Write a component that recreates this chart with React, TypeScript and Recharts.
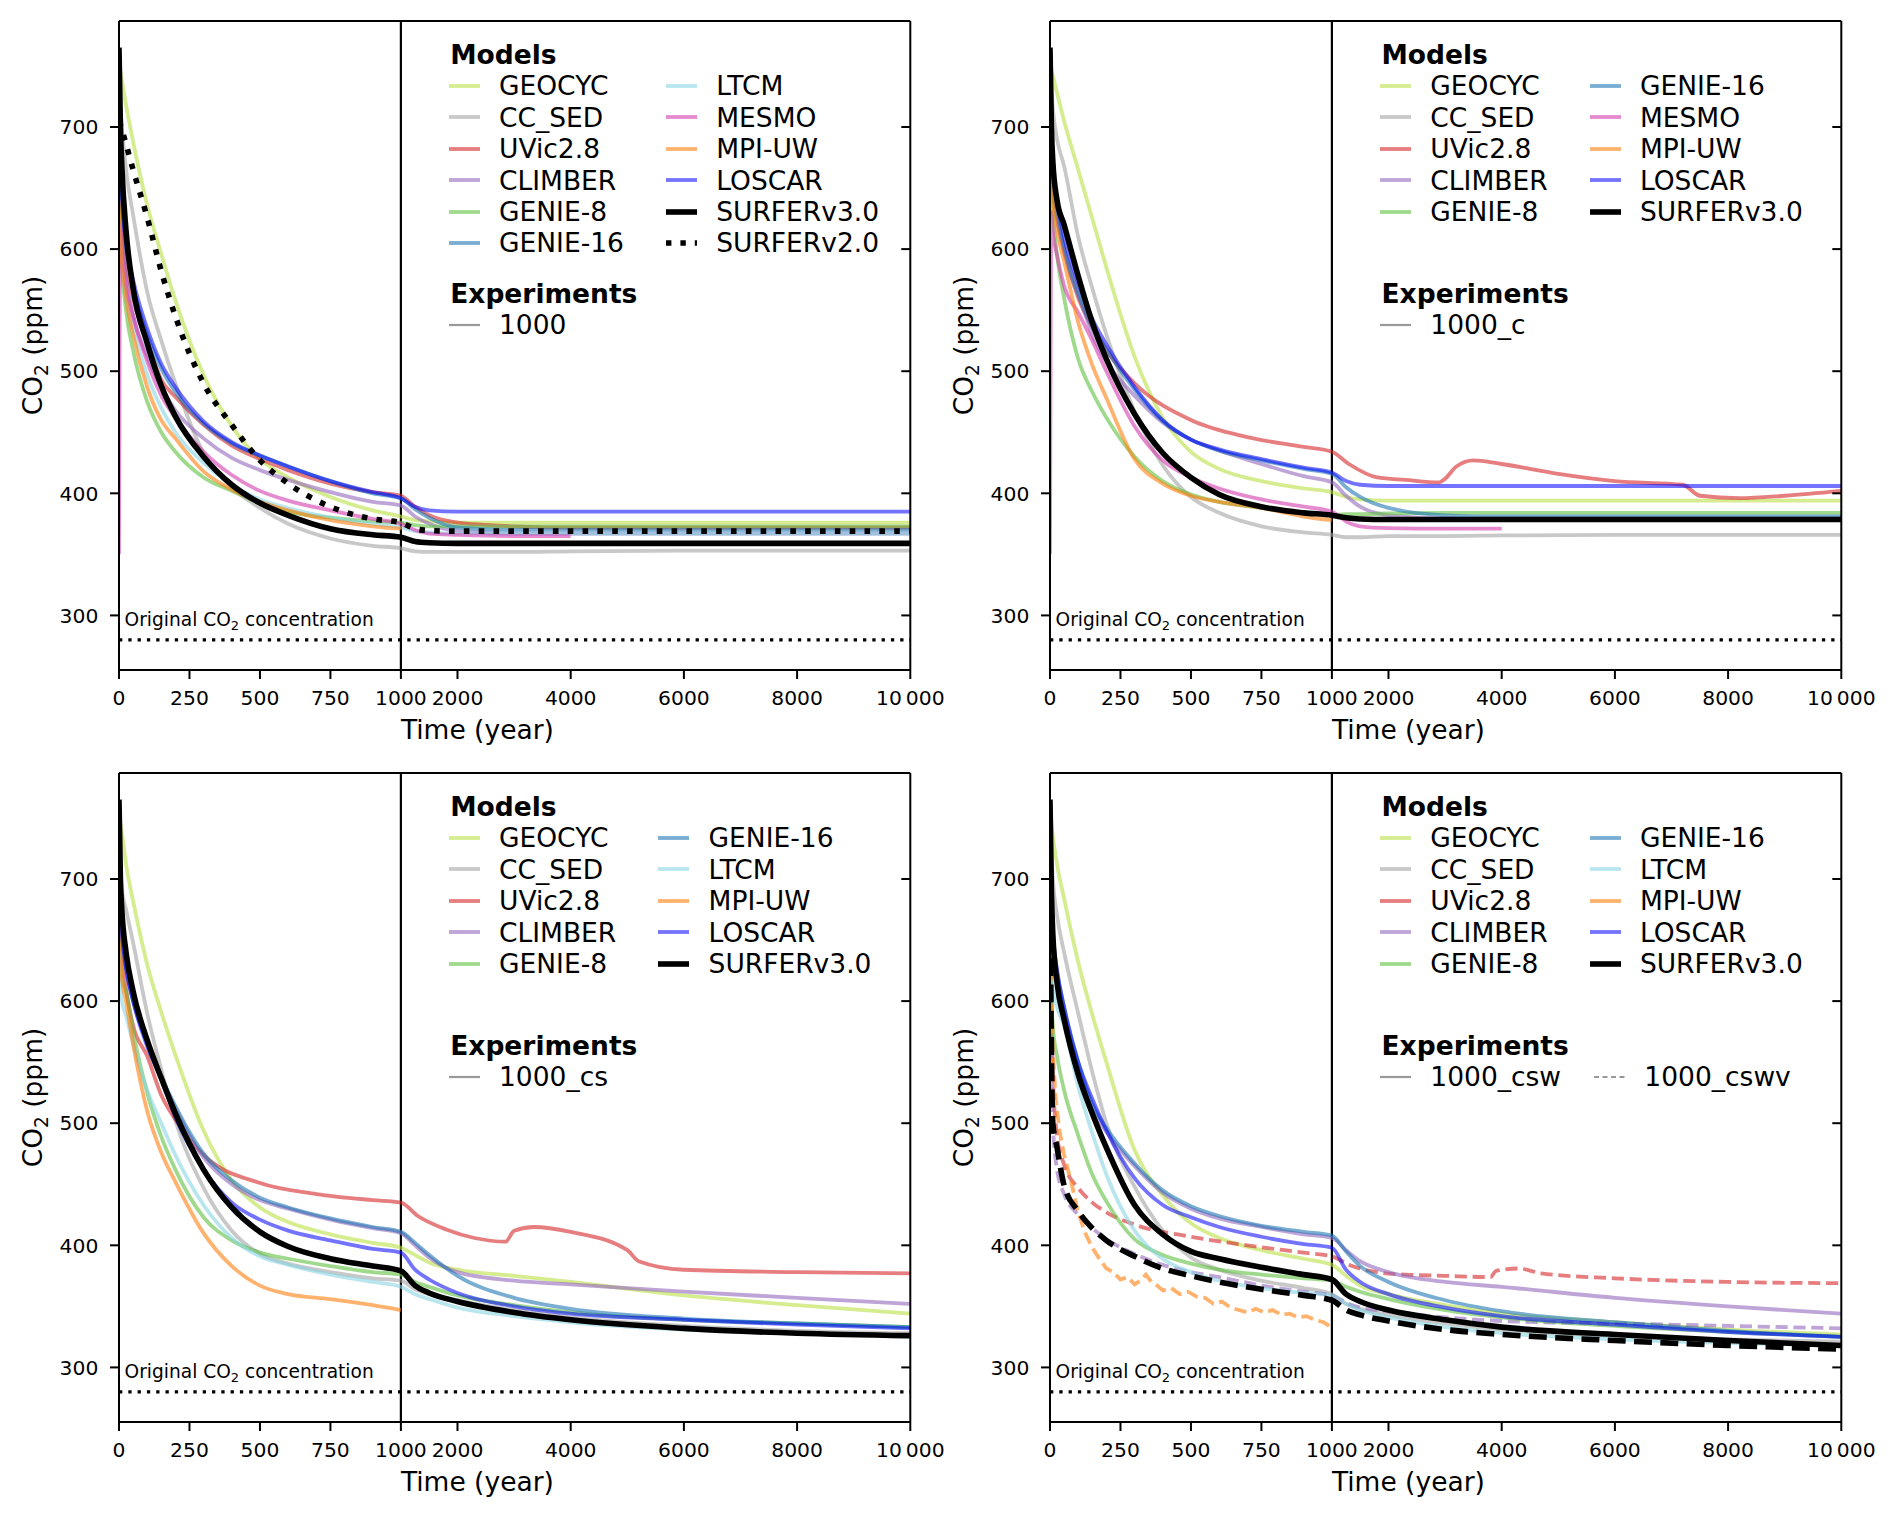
import React from "react";
import { ComposedChart, Line, XAxis, YAxis, ReferenceLine } from "recharts";

const FONT = "'DejaVu Sans', sans-serif";

// shared time grid (years)
const T = [0, 5, 10, 25, 50, 100, 150, 200, 300, 400, 500, 600, 750, 900, 1000, 1250, 1500, 2000, 3000, 4000, 6000, 8000, 10000];

const X_TICKS = [0, 250, 500, 750, 1000, 2000, 4000, 6000, 8000, 10000];
const X_TICK_LABELS = ["0", "250", "500", "750", "1000", "2000", "4000", "6000", "8000", "10\u2009000"];
const Y_TICKS = [300, 400, 500, 600, 700];
const Y_DOMAIN = [255.3, 786.8];
const ORIGINAL_CO2 = 280;

// ---- 1000 ----
const P1_GEOCYC = [750, 745, 738, 718, 688, 636, 596, 558, 497, 455, 428, 413, 397, 386, 381, 378, 377, 376, 376, 376, 376, 376, 376];
const P1_CC_SED = [730, 715, 700, 665, 628, 565, 525, 490, 433, 405, 388, 375, 363, 357, 355, 352.5, 352, 352, 352, 352.5, 353, 353, 353];
const P1_UVIC = [700, 660, 630, 590, 560, 525, 493, 479, 456, 439, 428, 419, 408, 401, 398, 389, 382, 376, 373, 372, 372, 372, 372];
const P1_CLIMBER = [690, 650, 620, 578, 546, 512, 487, 468, 445, 429, 419, 411, 401, 393, 390, 381, 375, 369, 367, 367, 367, 367, 367];
const P1_GENIE8 = [680, 620, 590, 550, 517, 475, 450, 434, 413, 402, 392, 385, 380, 377, 376, 374, 373, 373, 373, 373, 373, 373, 373];
const P1_GENIE16 = [700, 670, 642, 602, 570, 530, 502, 483, 457, 441, 431, 422, 410, 400, 396, 387, 380, 372, 370, 370, 370, 370, 370];
const P1_LTCM = [620, 600, 585, 560, 535, 497, 470, 450, 425, 407, 395, 388, 380, 375, 372, 369, 368, 367, 367, 367, 367, 367, 367];
const P1_MESMO = [350, 620, 600, 570, 545, 508, 480, 462, 434, 415, 402, 394, 386, 379, 375, 370, 367, 366, 365, 365, null, null, null];
const P1_MPI = [640, 610, 590, 560, 530, 487, 460, 445, 418, 403, 393, 386, 378, 373, 371, null, null, null, null, null, null, null, null];
const P1_LOSCAR = [705, 672, 645, 605, 575, 535, 506, 487, 459, 442, 431, 422, 410, 401, 396, 389, 386, 385, 385, 385, 385, 385, 385];
const P1_SURFER3 = [765, 700, 668, 615, 568, 523, 488, 463, 430, 407, 392, 382, 371, 366, 364, 360.5, 359.5, 359, 359, 359, 359, 359, 359];
const P1_SURFER2 = [705, 702, 698, 686, 665, 626, 582, 545, 490, 456, 427, 408, 389, 379, 376, 371, 369.5, 369, 369, 369, 369, 369, 369];

// ---- 1000_c ----
const P2_GEOCYC = [750, 746, 742, 728, 705, 665, 625, 585, 512, 462, 434, 420, 410, 404, 401, 397, 395, 394, 394, 394, 394, 394, 394];
const P2_CC_SED = [745, 730, 715, 690, 668, 610, 568, 530, 467, 423, 397, 384, 373, 368, 366, 364, 364, 365, 365, 365.5, 366, 366, 366];
const P2_CLIMBER = [690, 665, 650, 625, 600, 565, 530, 508, 480, 458, 444, 435, 424, 414, 409, 398, 389, 382, 379.5, 379.5, 379.5, 379.5, 379.5];
const P2_GENIE8 = [670, 650, 630, 595, 560, 510, 483, 462, 430, 410, 399, 393, 388, 384, 382, 383, 383, 383.5, 384, 384, 384, 384, 384];
const P2_GENIE16 = [690, 670, 655, 630, 600, 563, 537, 518, 485, 459, 444, 435, 427, 420, 416, 405, 397, 388, 382, 381, 381, 381, 381];
const P2_MESMO = [350, 630, 615, 595, 570, 548, 525, 500, 455, 427, 413, 404, 395, 389, 385, 377, 373, 371.5, 371, 371, null, null, null];
const P2_MPI = [680, 655, 640, 615, 590, 540, 505, 478, 428, 408, 398, 393, 388, 381, 378, null, null, null, null, null, null, null, null];
const P2_LOSCAR = [700, 680, 665, 640, 610, 572, 543, 522, 487, 460, 444, 436, 428, 421, 417, 410, 407, 406, 406, 406, 406, 406, 406];
const P2_SURFER3 = [765, 700, 672, 640, 620, 578, 540, 510, 465, 433, 413, 399, 389, 384, 382, 380, 379, 378.5, 378.5, 378.5, 378.5, 378.5, 378.5];
const P2_UVIC_T = [0, 10, 25, 50, 100, 150, 200, 300, 500, 700, 900, 1000, 1300, 1800, 2300, 2900, 3000, 3200, 3500, 4000, 5000, 6000, 7200, 7500, 8200, 9000, 10000];
const P2_UVIC = [700, 650, 625, 598, 560, 536, 517, 490, 460, 446, 438, 434, 424, 413, 411, 409, 412, 422, 427, 424, 416, 410, 407, 398, 396, 398, 402];

// ---- 1000_cs ----
const P3_GEOCYC = [751, 745, 738, 712, 682, 630, 591, 556, 494, 453, 431, 419, 409, 402, 398, 392, 386, 380, 375, 370, 359, 351, 344];
const P3_CC_SED = [720, 705, 692, 675, 648, 590, 544, 502, 447, 412, 393, 385, 378, 373, 371, 364, 360, 355, 347, 341, 334, 330, 328];
const P3_CLIMBER = [690, 665, 650, 625, 600, 565, 537, 512, 472, 450, 437, 430, 421, 414, 410, 400, 390, 378, 371, 368, 362, 357, 352];
const P3_GENIE8 = [650, 630, 618, 608, 575, 525, 489, 462, 423, 404, 394, 389, 383, 378, 376, 370, 366, 359, 351, 345, 339, 336, 333];
const P3_GENIE16 = [690, 667, 652, 627, 601, 566, 538, 514, 475, 453, 439, 431, 422, 415, 411, 402, 392, 375, 357, 348, 340, 336, 333];
const P3_LTCM = [640, 615, 600, 588, 565, 527, 500, 474, 433, 406, 391, 384, 376, 370, 366, 360, 356, 349, 342, 337, 331, 328, 325];
const P3_MPI = [680, 640, 620, 600, 565, 510, 476, 452, 410, 383, 367, 360, 356, 351, 347, null, null, null, null, null, null, null, null];
const P3_LOSCAR = [700, 670, 655, 628, 600, 563, 536, 505, 462, 435, 421, 412, 404, 397, 394, 380, 372, 361, 350, 344, 339, 335, 332];
const P3_SURFER3 = [765, 700, 675, 640, 608, 568, 537, 508, 462, 431, 411, 399, 389, 383, 379, 367, 361, 354, 345, 339, 332, 328, 326];
const P3_UVIC_T = [0, 10, 25, 50, 100, 150, 200, 300, 500, 700, 900, 1000, 1300, 1800, 2300, 2850, 3000, 3350, 4000, 5000, 5200, 6000, 8000, 10000];
const P3_UVIC = [700, 640, 610, 580, 555, 523, 503, 474, 451, 442, 437, 435, 424, 413, 406, 403, 412, 415, 411, 396, 387, 380, 378, 377];

// ---- 1000_csw (solid) and 1000_cswv (dashed) ----
const P4_GEOCYC = [751, 745, 735, 712, 684, 632, 589, 550, 478, 441, 418, 406, 396, 389, 384, 375, 367, 360, 351, 344, 337, 331, 327];
const P4_CC_SED = [740, 720, 700, 670, 640, 590, 542, 500, 448, 412, 390, 380, 371, 365, 360, 352, 348, 343, 336, 331, 326, 323, 321];
const P4_CLIMBER = [700, 670, 650, 620, 590, 545, 512, 493, 465, 443, 430, 422, 415, 409, 406, 396, 387, 378, 370, 366, 357, 350, 344];
const P4_GENIE8 = [640, 600, 580, 555, 527, 490, 458, 436, 405, 392, 385, 380, 376, 373, 371, 366, 362, 356, 347, 341, 334, 329, 325];
const P4_GENIE16 = [700, 675, 655, 625, 595, 550, 516, 496, 467, 445, 432, 424, 416, 411, 408, 395, 383, 370, 355, 346, 337, 330, 325];
const P4_LTCM = [660, 630, 610, 595, 580, 530, 492, 458, 412, 389, 378, 371, 365, 361, 359, 352, 347, 341, 333, 328, 323, 320, 318];
const P4_LOSCAR = [700, 672, 655, 625, 595, 550, 520, 494, 455, 433, 423, 415, 407, 401, 398, 380, 370, 360, 349, 342, 335, 329, 325];
const P4_SURFER3 = [765, 690, 655, 615, 585, 540, 508, 480, 433, 409, 395, 389, 382, 376, 372, 360, 354, 347, 339, 333, 327, 322, 318];
const P4_CLIMBER_V = [680, 560, 500, 462, 442, 425, 414, 405, 393, 384, 378, 374, 367, 362, 359, 353, 349, 346, 341, 338, 336, 334, 332];
const P4_SURFER3_V = [700, 560, 500, 480, 449, 428, 414, 404, 391, 381, 375, 370, 364, 359, 355, 347, 343, 338, 331, 327, 322, 318, 315];
const P4_UVIC_V_T = [0, 5, 10, 25, 50, 100, 150, 200, 300, 500, 700, 900, 1000, 1300, 1800, 2300, 3000, 3800, 3900, 4300, 4700, 6000, 8000, 10000];
const P4_UVIC_V = [690, 600, 540, 490, 466, 447, 435, 427, 417, 407, 400, 394, 391, 384, 378, 376, 375, 374, 379, 381, 377, 373, 370, 369];
const P4_MPI_V_T = [0, 5, 10, 20, 35, 50, 75, 100, 125, 150, 175, 200, 225, 250, 275, 300, 320, 340, 360, 380, 400, 430, 460, 490, 520, 550, 580, 610, 640, 670, 700, 730, 760, 790, 820, 850, 880, 910, 940, 970, 990];
const P4_MPI_V = [700, 610, 560, 520, 492, 474, 452, 427, 410, 398, 389, 381, 378, 372, 374, 368, 371, 376, 370, 367, 363, 365, 360, 362, 358, 357, 352, 354, 349, 347, 345, 348, 345, 347, 343, 344, 341, 342, 339, 337, 334];

const STYLE: Record<string, { color: string; opacity: number; width: number }> = {
  GEOCYC: { color: "#b9df44", opacity: 0.6, width: 3.8 },
  CC_SED: { color: "#a3a3a3", opacity: 0.6, width: 3.8 },
  "UVic2.8": { color: "#d62728", opacity: 0.6, width: 3.8 },
  CLIMBER: { color: "#9467bd", opacity: 0.6, width: 3.8 },
  "GENIE-8": { color: "#5fbf3f", opacity: 0.6, width: 3.8 },
  "GENIE-16": { color: "#1f77b4", opacity: 0.6, width: 3.8 },
  LTCM: { color: "#8ad5e3", opacity: 0.6, width: 3.8 },
  MESMO: { color: "#d63cb0", opacity: 0.6, width: 3.8 },
  "MPI-UW": { color: "#ff7f0e", opacity: 0.6, width: 3.8 },
  LOSCAR: { color: "#0000ff", opacity: 0.55, width: 3.8 },
  "SURFERv3.0": { color: "#000000", opacity: 1, width: 5.6 },
  "SURFERv2.0": { color: "#000000", opacity: 1, width: 5.6 },
};

type Series = { model: string; v: (number | null)[]; t?: number[]; dash?: "dash" | "dot"; linear?: boolean };

const PANELS: {
  left: number;
  top: number;
  series: Series[];
  cols: string[][];
  experiments: string[];
}[] = [
  {
    left: 118.7,
    top: 20.7,
    series: [
      { model: "GEOCYC", v: P1_GEOCYC },
      { model: "CC_SED", v: P1_CC_SED },
      { model: "UVic2.8", v: P1_UVIC },
      { model: "CLIMBER", v: P1_CLIMBER },
      { model: "GENIE-8", v: P1_GENIE8 },
      { model: "GENIE-16", v: P1_GENIE16 },
      { model: "LTCM", v: P1_LTCM },
      { model: "MESMO", v: P1_MESMO },
      { model: "MPI-UW", v: P1_MPI },
      { model: "LOSCAR", v: P1_LOSCAR },
      { model: "SURFERv3.0", v: P1_SURFER3 },
      { model: "SURFERv2.0", v: P1_SURFER2, dash: "dot" },
    ],
    cols: [
      ["GEOCYC", "CC_SED", "UVic2.8", "CLIMBER", "GENIE-8", "GENIE-16"],
      ["LTCM", "MESMO", "MPI-UW", "LOSCAR", "SURFERv3.0", "SURFERv2.0"],
    ],
    experiments: ["1000"],
  },
  {
    left: 1050,
    top: 20.7,
    series: [
      { model: "GEOCYC", v: P2_GEOCYC },
      { model: "CC_SED", v: P2_CC_SED },
      { model: "UVic2.8", v: P2_UVIC, t: P2_UVIC_T },
      { model: "CLIMBER", v: P2_CLIMBER },
      { model: "GENIE-8", v: P2_GENIE8 },
      { model: "GENIE-16", v: P2_GENIE16 },
      { model: "MESMO", v: P2_MESMO },
      { model: "MPI-UW", v: P2_MPI },
      { model: "LOSCAR", v: P2_LOSCAR },
      { model: "SURFERv3.0", v: P2_SURFER3 },
    ],
    cols: [
      ["GEOCYC", "CC_SED", "UVic2.8", "CLIMBER", "GENIE-8"],
      ["GENIE-16", "MESMO", "MPI-UW", "LOSCAR", "SURFERv3.0"],
    ],
    experiments: ["1000_c"],
  },
  {
    left: 118.7,
    top: 772.7,
    series: [
      { model: "GEOCYC", v: P3_GEOCYC },
      { model: "CC_SED", v: P3_CC_SED },
      { model: "UVic2.8", v: P3_UVIC, t: P3_UVIC_T },
      { model: "CLIMBER", v: P3_CLIMBER },
      { model: "GENIE-8", v: P3_GENIE8 },
      { model: "GENIE-16", v: P3_GENIE16 },
      { model: "LTCM", v: P3_LTCM },
      { model: "MPI-UW", v: P3_MPI },
      { model: "LOSCAR", v: P3_LOSCAR },
      { model: "SURFERv3.0", v: P3_SURFER3 },
    ],
    cols: [
      ["GEOCYC", "CC_SED", "UVic2.8", "CLIMBER", "GENIE-8"],
      ["GENIE-16", "LTCM", "MPI-UW", "LOSCAR", "SURFERv3.0"],
    ],
    experiments: ["1000_cs"],
  },
  {
    left: 1050,
    top: 772.7,
    series: [
      { model: "GEOCYC", v: P4_GEOCYC },
      { model: "CC_SED", v: P4_CC_SED },
      { model: "UVic2.8", v: P4_UVIC_V, t: P4_UVIC_V_T, dash: "dash" },
      { model: "CLIMBER", v: P4_CLIMBER },
      { model: "CLIMBER", v: P4_CLIMBER_V, dash: "dash" },
      { model: "GENIE-8", v: P4_GENIE8 },
      { model: "GENIE-16", v: P4_GENIE16 },
      { model: "LTCM", v: P4_LTCM },
      { model: "MPI-UW", v: P4_MPI_V, t: P4_MPI_V_T, dash: "dash", linear: true },
      { model: "LOSCAR", v: P4_LOSCAR },
      { model: "SURFERv3.0", v: P4_SURFER3 },
      { model: "SURFERv3.0", v: P4_SURFER3_V, dash: "dash" },
    ],
    cols: [
      ["GEOCYC", "CC_SED", "UVic2.8", "CLIMBER", "GENIE-8"],
      ["GENIE-16", "LTCM", "MPI-UW", "LOSCAR", "SURFERv3.0"],
    ],
    experiments: ["1000_csw", "1000_cswv"],
  },
];

// broken time axis: 0-1000 and 1000-10000 get their own linear stretch
const BREAK = 1000;
const END = 10000;
const RIGHT_SPAN = 1807.1;
const toAxis = (t: number) => (t <= BREAK ? t : BREAK + ((t - BREAK) / (END - BREAK)) * RIGHT_SPAN);
const X_MAX = toAxis(END);

const PLOT_W = 791.3;
const PLOT_H = 649;
const AXIS_W = 118;
const TOP_PAD = 11;
const RIGHT_PAD = 41;
const BOTTOM_H = 80;
const CHART_W = AXIS_W + PLOT_W + RIGHT_PAD;
const CHART_H = TOP_PAD + PLOT_H + BOTTOM_H;

const LABEL_SIZE = 26.5;
const LEGEND_SIZE = 26.5;
const TICK_SIZE = 20.3;
const ROW_H = 31.4;

function dashFor(s: { dash?: "dash" | "dot" }, width: number) {
  if (s.dash === "dot") return `${width} ${width * 1.65}`;
  if (s.dash === "dash") return `${width * 3.2} ${width * 1.5}`;
  return undefined;
}

function CO2({ x, y, size, tail, transform, anchor }: { x: number; y: number; size: number; tail: string; transform?: string; anchor?: string }) {
  const shift = size * 0.2;
  return (
    <text x={x} y={y} fontSize={size} fontFamily={FONT} fill="#000" transform={transform} textAnchor={anchor}>
      {tail === "label" ? "Original " : ""}CO
      <tspan dy={shift} fontSize={size * 0.7}>2</tspan>
      <tspan dy={-shift}>{tail === "label" ? " concentration" : " (ppm)"}</tspan>
    </text>
  );
}

function Handle({ model, dash, grey }: { model?: string; dash?: "dash" | "dot"; grey?: boolean }) {
  const st = grey ? { color: "#7f7f7f", opacity: 0.8, width: 2.2 } : STYLE[model as string];
  const dasharray = grey && dash ? "5 3.5" : dash === "dot" ? "5.4 9" : undefined;
  return (
    <svg width={31} height={12} style={{ flex: "none", marginRight: 19.3 }}>
      <line x1={0} x2={31} y1={6} y2={6} stroke={st.color} strokeOpacity={st.opacity} strokeWidth={st.width} strokeDasharray={dasharray} />
    </svg>
  );
}

function Row({ children }: { children: React.ReactNode }) {
  return (
    <div style={{ display: "flex", alignItems: "center", height: ROW_H, whiteSpace: "nowrap" }}>{children}</div>
  );
}

function Legend({ cols, experiments }: { cols: string[][]; experiments: string[] }) {
  const base = AXIS_W + 330;
  const title = { position: "absolute" as const, left: base + 1.5, fontWeight: "bold" as const, height: ROW_H, lineHeight: `${ROW_H}px`, whiteSpace: "nowrap" as const };
  return (
    <div style={{ position: "absolute", left: 0, top: 0, fontFamily: FONT, fontSize: LEGEND_SIZE, color: "#000" }}>
      <div style={{ ...title, top: TOP_PAD + 34.5 - ROW_H / 2 }}>Models</div>
      <div style={{ position: "absolute", left: base, top: TOP_PAD + 65.3 - ROW_H / 2, display: "flex", gap: 42 }}>
        {cols.map((col, ci) => (
          <div key={ci}>
            {col.map((m) => (
              <Row key={m}>
                <Handle model={m} dash={m === "SURFERv2.0" ? "dot" : undefined} />
                <span>{m}</span>
              </Row>
            ))}
          </div>
        ))}
      </div>
      <div style={{ ...title, top: TOP_PAD + 273.4 - ROW_H / 2 }}>Experiments</div>
      <div style={{ position: "absolute", left: base, top: TOP_PAD + 304.3 - ROW_H / 2, display: "flex", gap: 33 }}>
        {experiments.map((e, i) => (
          <Row key={e}>
            <Handle grey dash={i === 1 ? "dash" : undefined} />
            <span>{e}</span>
          </Row>
        ))}
      </div>
    </div>
  );
}

function Panel({ left, top, series, cols, experiments }: (typeof PANELS)[number]) {
  const tickLabel = (v: number) => {
    const i = X_TICKS.findIndex((t) => Math.abs(toAxis(t) - v) < 0.01);
    return i >= 0 ? X_TICK_LABELS[i] : "";
  };
  return (
    <div style={{ position: "absolute", left: left - AXIS_W, top: top - TOP_PAD, width: CHART_W, height: CHART_H }}>
      <ComposedChart width={CHART_W} height={CHART_H} margin={{ top: 10, right: 40, bottom: 0, left: 0 }}>
        <XAxis
          xAxisId="top"
          orientation="top"
          type="number"
          domain={[0, X_MAX]}
          allowDataOverflow
          height={1}
          tick={false}
          tickLine={false}
          axisLine={{ stroke: "#000", strokeWidth: 2 }}
        />
        <XAxis
          type="number"
          dataKey="x"
          domain={[0, X_MAX]}
          allowDataOverflow
          ticks={X_TICKS.map(toAxis)}
          interval={0}
          tickFormatter={tickLabel}
          height={BOTTOM_H}
          tickSize={9}
          tickMargin={12}
          axisLine={{ stroke: "#000", strokeWidth: 2 }}
          tickLine={{ stroke: "#000", strokeWidth: 2 }}
          tick={{ fill: "#000", fontSize: TICK_SIZE, fontFamily: FONT }}
          label={(p: any) => {
            const vb = p.viewBox;
            const x = vb.x + (vb.width * toAxis(BREAK)) / X_MAX;
            return (
              <text x={x} y={vb.y + 69.3} fontSize={LABEL_SIZE} fontFamily={FONT} fill="#000">
                Time (year)
              </text>
            );
          }}
        />
        <YAxis
          type="number"
          domain={Y_DOMAIN}
          allowDataOverflow
          ticks={Y_TICKS}
          interval={0}
          width={AXIS_W}
          tickSize={9}
          tickMargin={11.7}
          axisLine={{ stroke: "#000", strokeWidth: 2 }}
          tickLine={{ stroke: "#000", strokeWidth: 2 }}
          tick={{ fill: "#000", fontSize: TICK_SIZE, fontFamily: FONT }}
          label={(p: any) => {
            const vb = p.viewBox;
            const cx = vb.x + vb.width - 86;
            const cy = vb.y + vb.height / 2;
            return (
              <g>
                <CO2 x={cx} y={cy + LABEL_SIZE * 0.35} size={LABEL_SIZE} tail="axis" anchor="middle" transform={`rotate(-90, ${cx}, ${cy})`} />
              </g>
            );
          }}
        />
        <YAxis
          yAxisId="right"
          orientation="right"
          type="number"
          domain={Y_DOMAIN}
          allowDataOverflow
          ticks={Y_TICKS}
          interval={0}
          width={1}
          tickSize={-9}
          tickFormatter={() => ""}
          tick={{ fontSize: 1 }}
          axisLine={{ stroke: "#000", strokeWidth: 2 }}
          tickLine={{ stroke: "#000", strokeWidth: 2 }}
        />
        <ReferenceLine x={toAxis(BREAK)} stroke="#000" strokeWidth={2.2} />
        <ReferenceLine
          y={ORIGINAL_CO2}
          stroke="#000"
          strokeWidth={3.3}
          strokeDasharray="3.3 6"
          label={(p: any) => <CO2 x={p.viewBox.x + 5.6} y={p.viewBox.y - 14} size={18.6} tail="label" />}
        />
        {series.map((s, i) => {
          const st = STYLE[s.model];
          const times = s.t ?? T;
          const pts = times
            .map((t, k) => ({ x: toAxis(t), y: s.v[k] }))
            .filter((p) => p.y !== null && p.y !== undefined);
          return (
            <Line
              key={`${s.model}-${i}`}
              data={pts}
              dataKey="y"
              type={s.linear ? "linear" : "monotone"}
              stroke={st.color}
              strokeOpacity={st.opacity}
              strokeWidth={st.width}
              strokeDasharray={dashFor(s, st.width)}
              dot={false}
              activeDot={false}
              isAnimationActive={false}
            />
          );
        })}
      </ComposedChart>
      <Legend cols={cols} experiments={experiments} />
    </div>
  );
}

export default function App() {
  return (
    <div style={{ position: "absolute", left: 0, top: 0, width: 1892, height: 1517, background: "#fff", overflow: "hidden" }}>
      {PANELS.map((p, i) => (
        <Panel key={i} {...p} />
      ))}
    </div>
  );
}
